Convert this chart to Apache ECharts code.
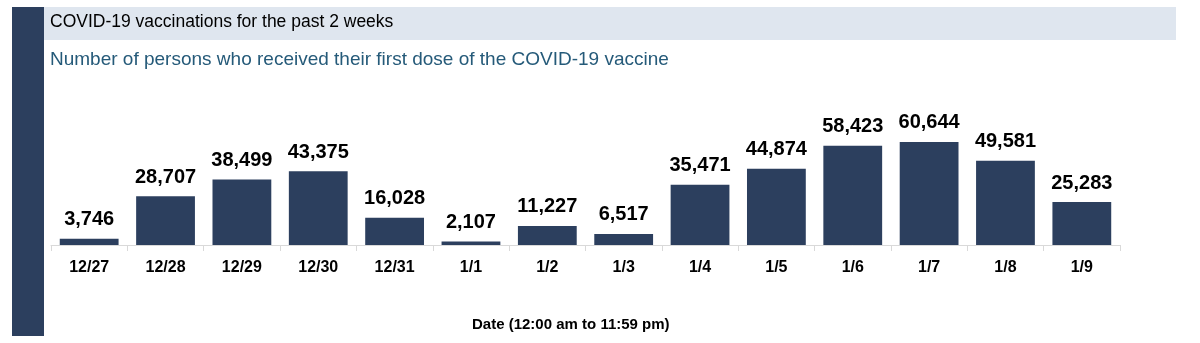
<!DOCTYPE html>
<html><head><meta charset="utf-8">
<script src="https://cdn.jsdelivr.net/npm/echarts@6/dist/echarts.min.js"></script>
<style>html,body{margin:0;padding:0;background:#fff}#c{width:1200px;height:343px}</style>
</head><body><div id="c"></div>
<script>
const categories = ['12/27','12/28','12/29','12/30','12/31','1/1','1/2','1/3','1/4','1/5','1/6','1/7','1/8','1/9'];
const firstDoses = [3746,28707,38499,43375,16028,2107,11227,6517,35471,44874,58423,60644,49581,25283];
const titleText = 'COVID-19 vaccinations for the past 2 weeks';
const subtitleText = 'Number of persons who received their first dose of the COVID-19 vaccine';
const xAxisName = 'Date (12:00 am to 11:59 pm)';

const chart = echarts.init(document.getElementById('c'));
const sans = '"Liberation Sans",Arial,sans-serif';
chart.setOption({
  animation:false,
  graphic:[
    {type:'rect',shape:{x:12,y:7,width:32,height:329},style:{fill:'#2c3f5e'},z:0},
    {type:'rect',shape:{x:44,y:7,width:1132,height:33},style:{fill:'#dfe6ef'},z:0},
    {type:'text',left:50,top:13,style:{text:titleText,fill:'#000',font:'17.5px '+sans},z:1},
    {type:'text',left:50,top:50,style:{text:subtitleText,fill:'#255a79',font:'19px '+sans},z:1},
    {type:'text',left:472,top:317,style:{text:xAxisName,fill:'#000',font:'bold 15px '+sans},z:1}
  ],
  grid:{left:51,right:80,top:109,bottom:98,containLabel:false},
  xAxis:{type:'category',data:categories,
    axisLine:{lineStyle:{color:'#d9d9d9',width:1}},
    axisTick:{show:true,alignWithLabel:false,length:6,lineStyle:{color:'#d9d9d9'}},
    axisLabel:{color:'#000',fontFamily:sans,fontWeight:'bold',fontSize:16,margin:15}},
  yAxis:{type:'value',min:0,max:80000,show:false,splitLine:{show:false}},
  series:[{type:'bar',data:firstDoses,barCategoryGap:'23%',
    itemStyle:{color:'#2c3f5e'},
    label:{show:true,position:'top',distance:9,color:'#000',fontFamily:sans,fontWeight:'bold',fontSize:20,
      formatter:p=>p.value.toLocaleString('en-US')}}]
});
</script></body></html>
